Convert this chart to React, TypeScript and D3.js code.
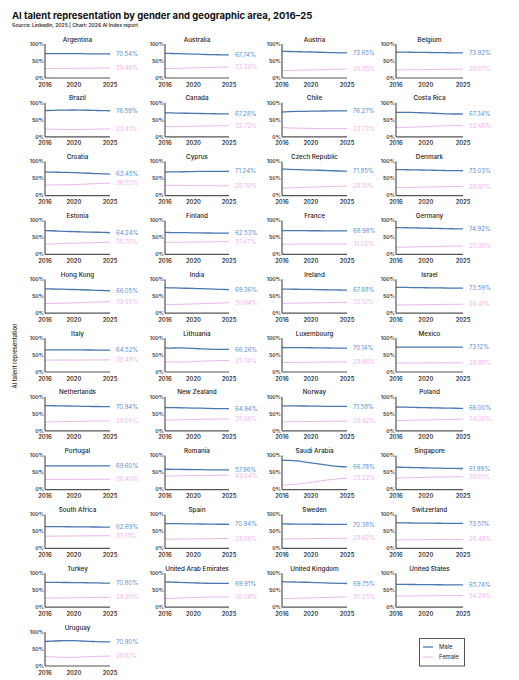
import React from "react";
import * as d3 from "d3";

const years = [2016, 2017, 2018, 2019, 2020, 2021, 2022, 2023, 2024, 2025];
const xTicks = [2016, 2020, 2025];
const yTicks = [0, 50, 100];

const countries = [
  "Argentina", "Australia", "Austria", "Belgium",
  "Brazil", "Canada", "Chile", "Costa Rica",
  "Croatia", "Cyprus", "Czech Republic", "Denmark",
  "Estonia", "Finland", "France", "Germany",
  "Hong Kong", "India", "Ireland", "Israel",
  "Italy", "Lithuania", "Luxembourg", "Mexico",
  "Netherlands", "New Zealand", "Norway", "Poland",
  "Portugal", "Romania", "Saudi Arabia", "Singapore",
  "South Africa", "Spain", "Sweden", "Switzerland",
  "Turkey", "United Arab Emirates", "United Kingdom", "United States",
  "Uruguay",
];

const maleValues: number[][] = [
  [72.0, 71.9, 71.8, 71.7, 71.5, 71.4, 71.2, 71.0, 70.8, 70.54],
  [72.5, 72.0, 71.5, 71.0, 70.3, 69.7, 69.1, 68.6, 68.2, 67.74],
  [78.5, 78.0, 77.5, 77.0, 76.4, 75.8, 75.2, 74.6, 74.1, 73.65],
  [76.0, 75.9, 75.7, 75.5, 75.2, 74.9, 74.6, 74.3, 74.1, 73.92],
  [77.0, 77.6, 78.2, 78.6, 78.8, 78.6, 78.1, 77.5, 77.0, 76.59],
  [70.5, 70.1, 69.7, 69.3, 68.9, 68.5, 68.1, 67.8, 67.5, 67.28],
  [73.0, 73.8, 74.5, 75.0, 75.4, 75.7, 75.9, 76.0, 76.1, 76.27],
  [72.0, 71.9, 71.6, 71.0, 70.2, 69.3, 68.3, 67.4, 67.0, 67.34],
  [69.0, 68.8, 68.6, 68.2, 67.6, 66.8, 65.8, 64.8, 64.0, 63.45],
  [70.0, 69.8, 69.8, 70.3, 70.8, 71.0, 71.0, 71.0, 71.1, 71.24],
  [78.0, 77.3, 76.6, 75.9, 75.2, 74.5, 73.8, 73.1, 72.4, 71.85],
  [76.5, 76.2, 75.9, 75.5, 75.0, 74.5, 74.0, 73.6, 73.3, 73.03],
  [70.0, 69.5, 68.2, 67.5, 67.0, 66.4, 65.8, 65.2, 64.7, 64.24],
  [64.5, 64.3, 64.1, 63.9, 63.6, 63.3, 63.0, 62.8, 62.7, 62.53],
  [70.0, 69.9, 69.8, 69.7, 69.6, 69.5, 69.4, 69.2, 69.1, 68.98],
  [79.0, 78.6, 78.2, 77.7, 77.2, 76.7, 76.2, 75.7, 75.3, 74.92],
  [71.5, 71.2, 70.8, 70.3, 69.7, 69.0, 68.2, 67.4, 66.7, 66.05],
  [75.0, 74.5, 74.0, 73.4, 72.8, 72.1, 71.4, 70.7, 70.0, 69.36],
  [71.0, 70.7, 70.4, 70.1, 69.8, 69.4, 69.0, 68.6, 68.2, 67.88],
  [76.0, 75.8, 75.5, 75.2, 74.9, 74.6, 74.3, 74.0, 73.8, 73.59],
  [65.0, 65.0, 64.9, 64.9, 64.8, 64.8, 64.7, 64.6, 64.6, 64.52],
  [70.0, 70.5, 70.8, 70.3, 69.2, 68.2, 67.4, 66.8, 66.4, 66.26],
  [72.0, 71.9, 71.7, 71.5, 71.3, 71.0, 70.8, 70.5, 70.3, 70.14],
  [73.5, 73.4, 73.3, 73.3, 73.2, 73.2, 73.1, 73.1, 73.1, 73.12],
  [74.0, 73.7, 73.3, 72.9, 72.5, 72.1, 71.7, 71.4, 71.1, 70.94],
  [68.5, 68.2, 67.8, 67.4, 66.9, 66.4, 65.9, 65.5, 65.2, 64.94],
  [73.5, 73.3, 73.1, 72.9, 72.6, 72.4, 72.1, 71.9, 71.7, 71.58],
  [70.0, 69.6, 69.1, 68.6, 68.1, 67.6, 67.1, 66.7, 66.3, 66.0],
  [70.0, 70.0, 69.9, 69.9, 69.8, 69.8, 69.7, 69.7, 69.6, 69.6],
  [60.0, 59.7, 59.4, 59.1, 58.8, 58.5, 58.3, 58.1, 58.0, 57.96],
  [87.0, 86.0, 84.3, 81.8, 78.8, 75.5, 72.5, 70.0, 68.0, 66.78],
  [66.0, 65.5, 65.0, 64.5, 63.9, 63.4, 62.9, 62.5, 62.2, 61.99],
  [64.0, 63.9, 63.8, 63.7, 63.5, 63.3, 63.1, 62.9, 62.8, 62.69],
  [73.0, 72.8, 72.6, 72.3, 72.0, 71.7, 71.4, 71.2, 71.0, 70.94],
  [72.0, 71.8, 71.6, 71.4, 71.2, 71.0, 70.8, 70.6, 70.5, 70.38],
  [75.0, 74.9, 74.7, 74.5, 74.3, 74.1, 73.9, 73.7, 73.6, 73.51],
  [73.0, 72.9, 72.8, 72.6, 72.4, 72.1, 71.8, 71.4, 71.1, 70.8],
  [74.5, 73.8, 73.0, 72.2, 71.5, 70.9, 70.4, 70.1, 69.9, 69.91],
  [75.0, 74.5, 74.0, 73.4, 72.8, 72.1, 71.4, 70.7, 70.1, 69.75],
  [67.0, 66.9, 66.8, 66.6, 66.4, 66.2, 66.0, 65.9, 65.8, 65.74],
  [72.0, 73.0, 74.2, 74.8, 74.5, 73.6, 72.6, 71.8, 71.2, 70.9],
];

const femaleValues: number[][] = [
  [28.0, 28.1, 28.2, 28.3, 28.5, 28.6, 28.8, 29.0, 29.2, 29.46],
  [27.5, 28.0, 28.5, 29.0, 29.7, 30.3, 30.9, 31.4, 31.8, 32.26],
  [21.5, 22.0, 22.5, 23.0, 23.6, 24.2, 24.8, 25.4, 25.9, 26.35],
  [24.0, 24.1, 24.3, 24.5, 24.8, 25.1, 25.4, 25.7, 25.9, 26.07],
  [23.0, 22.4, 21.8, 21.4, 21.2, 21.4, 21.9, 22.5, 23.0, 23.41],
  [29.5, 29.9, 30.3, 30.7, 31.1, 31.5, 31.9, 32.2, 32.5, 32.72],
  [27.0, 26.2, 25.5, 25.0, 24.6, 24.3, 24.1, 24.0, 23.9, 23.73],
  [28.0, 28.1, 28.4, 29.0, 29.8, 30.7, 31.7, 32.6, 33.0, 32.66],
  [31.0, 31.2, 31.4, 31.8, 32.4, 33.2, 34.2, 35.2, 36.0, 36.55],
  [30.0, 30.2, 30.2, 29.7, 29.2, 29.0, 29.0, 29.0, 28.9, 28.76],
  [22.0, 22.7, 23.4, 24.1, 24.8, 25.5, 26.2, 26.9, 27.6, 28.15],
  [23.5, 23.8, 24.1, 24.5, 25.0, 25.5, 26.0, 26.4, 26.7, 26.97],
  [30.0, 30.5, 31.8, 32.5, 33.0, 33.6, 34.2, 34.8, 35.3, 35.76],
  [35.5, 35.7, 35.9, 36.1, 36.4, 36.7, 37.0, 37.2, 37.3, 37.47],
  [30.0, 30.1, 30.2, 30.3, 30.4, 30.5, 30.6, 30.8, 30.9, 31.02],
  [21.0, 21.4, 21.8, 22.3, 22.8, 23.3, 23.8, 24.3, 24.7, 25.08],
  [28.5, 28.8, 29.2, 29.7, 30.3, 31.0, 31.8, 32.6, 33.3, 33.95],
  [25.0, 25.5, 26.0, 26.6, 27.2, 27.9, 28.6, 29.3, 30.0, 30.64],
  [29.0, 29.3, 29.6, 29.9, 30.2, 30.6, 31.0, 31.4, 31.8, 32.12],
  [24.0, 24.2, 24.5, 24.8, 25.1, 25.4, 25.7, 26.0, 26.2, 26.41],
  [35.0, 35.0, 35.1, 35.1, 35.2, 35.2, 35.3, 35.4, 35.4, 35.48],
  [30.0, 29.5, 29.2, 29.7, 30.8, 31.8, 32.6, 33.2, 33.6, 33.74],
  [28.0, 28.1, 28.3, 28.5, 28.7, 29.0, 29.2, 29.5, 29.7, 29.86],
  [26.5, 26.6, 26.7, 26.7, 26.8, 26.8, 26.9, 26.9, 26.9, 26.88],
  [26.0, 26.3, 26.7, 27.1, 27.5, 27.9, 28.3, 28.6, 28.9, 29.06],
  [31.5, 31.8, 32.2, 32.6, 33.1, 33.6, 34.1, 34.5, 34.8, 35.06],
  [26.5, 26.7, 26.9, 27.1, 27.4, 27.6, 27.9, 28.1, 28.3, 28.42],
  [30.0, 30.4, 30.9, 31.4, 31.9, 32.4, 32.9, 33.3, 33.7, 34.0],
  [30.0, 30.0, 30.1, 30.1, 30.2, 30.2, 30.3, 30.3, 30.4, 30.4],
  [40.0, 40.3, 40.6, 40.9, 41.2, 41.5, 41.7, 41.9, 42.0, 42.04],
  [13.0, 14.0, 15.7, 18.2, 21.2, 24.5, 27.5, 30.0, 32.0, 33.22],
  [34.0, 34.5, 35.0, 35.5, 36.1, 36.6, 37.1, 37.5, 37.8, 38.01],
  [36.0, 36.1, 36.2, 36.3, 36.5, 36.7, 36.9, 37.1, 37.2, 37.31],
  [27.0, 27.2, 27.4, 27.7, 28.0, 28.3, 28.6, 28.8, 29.0, 29.06],
  [28.0, 28.2, 28.4, 28.6, 28.8, 29.0, 29.2, 29.4, 29.5, 29.62],
  [25.0, 25.1, 25.3, 25.5, 25.7, 25.9, 26.1, 26.3, 26.4, 26.49],
  [27.0, 27.1, 27.2, 27.4, 27.6, 27.9, 28.2, 28.6, 28.9, 29.2],
  [25.5, 26.2, 27.0, 27.8, 28.5, 29.1, 29.6, 29.9, 30.1, 30.09],
  [25.0, 25.5, 26.0, 26.6, 27.2, 27.9, 28.6, 29.3, 29.9, 30.25],
  [33.0, 33.1, 33.2, 33.4, 33.6, 33.8, 34.0, 34.1, 34.2, 34.26],
  [28.0, 27.0, 25.8, 25.2, 25.5, 26.4, 27.4, 28.2, 28.8, 29.1],
];

const seriesNames = ["Male", "Female"];

const W = 519;
const H = 680;
const FONT = "Inter, 'Noto Sans', sans-serif";
const MALE_LINE = "#4a78b0";
const FEMALE_LINE = "#ebb8ec";
const MALE_TEXT = "#5b8fd4";
const FEMALE_TEXT = "#f0b6ee";
const AXIS = "#555";

const colLeft = [45, 165, 282, 396];
const colWidth = [65, 64, 65, 67];
const rowTop0 = 44;
const rowStep = 58.8;
const plotH = 34;
const minLabelGap = 6.2;

function Panel({ idx }: { idx: number }) {
  const col = idx % 4;
  const row = Math.floor(idx / 4);
  const left = colLeft[col];
  const right = left + colWidth[col];
  const top = rowTop0 + row * rowStep;
  const bottom = top + plotH;
  const x = d3.scaleLinear().domain([2016, 2025]).range([left, right]);
  const y = d3.scaleLinear().domain([0, 100]).range([bottom, top]);
  const line = d3
    .line<number>()
    .x((_, i) => x(years[i]))
    .y((d) => y(d))
    .curve(d3.curveMonotoneX);
  const m = maleValues[idx];
  const f = femaleValues[idx];
  const mLast = m[m.length - 1];
  const fLast = f[f.length - 1];
  let mY = y(mLast);
  let fY = y(fLast);
  const gap = fY - mY;
  if (gap < minLabelGap) {
    const push = (minLabelGap - gap) / 2;
    mY -= push;
    fY += push;
  }
  return (
    <g>
      <text
        x={(left + right) / 2}
        y={top - 2.5}
        textAnchor="middle"
        fontSize={6.3}
        fontWeight={500}
        fill="#222"
      >
        {countries[idx]}
      </text>
      {yTicks.map((t) => (
        <text
          key={t}
          x={left - 1}
          y={y(t)}
          dy="0.35em"
          textAnchor="end"
          fontSize={5.2}
          fontWeight={600}
          fill="#333"
        >
          {t}%
        </text>
      ))}
      {xTicks.map((t) => (
        <text
          key={t}
          x={x(t)}
          y={bottom + 8.5}
          textAnchor="middle"
          fontSize={5.8}
          fontWeight={600}
          fill="#333"
        >
          {t}
        </text>
      ))}
      <path d={line(f) || ""} fill="none" stroke={FEMALE_LINE} strokeWidth={1} />
      <path d={line(m) || ""} fill="none" stroke={MALE_LINE} strokeWidth={1.3} />
      <line x1={left} x2={left} y1={top} y2={bottom} stroke={AXIS} strokeWidth={1.2} />
      <line x1={left} x2={right} y1={bottom} y2={bottom} stroke={AXIS} strokeWidth={1.2} />
      <text x={right + 6} y={mY} dy="0.35em" fontSize={6} fill={MALE_TEXT}>
        {mLast.toFixed(2)}%
      </text>
      <text x={right + 6} y={fY} dy="0.35em" fontSize={6} fill={FEMALE_TEXT}>
        {fLast.toFixed(2)}%
      </text>
    </g>
  );
}

export default function App() {
  return (
    <svg
      width={W}
      height={H}
      style={{ position: "absolute", left: 0, top: 0, background: "#fff" }}
      fontFamily={FONT}
    >
      <rect width={W} height={H} fill="#fff" />
      <text x={12} y={18.5} fontSize={9.5} fontWeight={700} fill="#111">
        AI talent representation by gender and geographic area, 2016–25
      </text>
      <text x={12} y={27} fontSize={5} fontWeight={600} fill="#333">
        Source: LinkedIn, 2025 | Chart: 2026 AI Index report
      </text>
      <text
        transform="translate(17,356) rotate(-90)"
        textAnchor="middle"
        fontSize={5.8}
        fontWeight={500}
        fill="#222"
      >
        AI talent representation
      </text>
      {countries.map((_, i) => (
        <Panel key={i} idx={i} />
      ))}
      <g>
        <rect x={419.5} y={638.5} width={45} height={27.5} fill="#fff" stroke={AXIS} strokeWidth={1} />
        {seriesNames.map((s, i) => (
          <g key={s}>
            <line
              x1={423}
              x2={433}
              y1={647 + i * 10}
              y2={647 + i * 10}
              stroke={i === 0 ? MALE_LINE : FEMALE_LINE}
              strokeWidth={i === 0 ? 1.3 : 1}
            />
            <text x={439} y={647 + i * 10} dy="0.35em" fontSize={5.8} fill="#222">
              {s}
            </text>
          </g>
        ))}
      </g>
    </svg>
  );
}
